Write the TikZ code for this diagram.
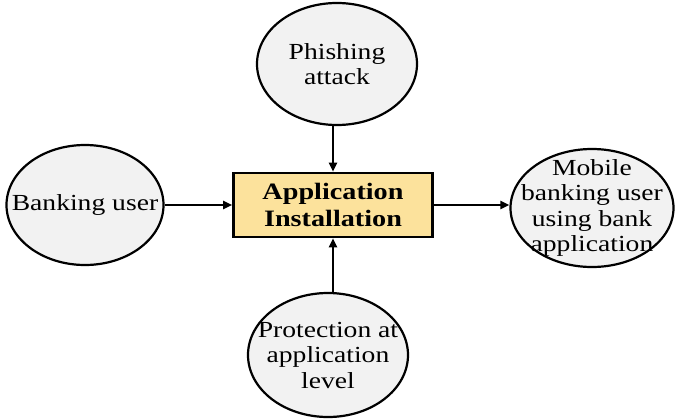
\documentclass[tikz,border=0pt]{standalone}
\usepackage{fontspec}
\setmainfont{Liberation Serif}[FakeStretch=1.2]
\usetikzlibrary{shapes.geometric,arrows.meta}
\definecolor{ovalfill}{HTML}{F2F2F2}
\definecolor{boxfill}{HTML}{FCE29C}
\tikzset{
  oval/.style={ellipse, draw=black, line width=2.2pt, fill=ovalfill, inner sep=0pt},
  ovaltext/.style={align=center, inner sep=0pt, font=\fontsize{23}{25.5}\selectfont},
  centerbox/.style={rectangle, draw=black, line width=2.6pt, fill=boxfill,
    inner sep=0pt, align=center, font=\fontsize{23.5}{27}\selectfont\bfseries},
  arr/.style={line width=2pt, -{Triangle[length=9pt,width=8pt]}}
}
\begin{document}
\begin{tikzpicture}[x=1pt,y=-1pt]
  \useasboundingbox (0,0) rectangle (675,420);
  \node[centerbox, minimum width=199pt, minimum height=64pt] (box) at (333,205)
    {Application\\Installation};
  % ellipses drawn empty, their texts set on top
  \node[oval, minimum width=160pt, minimum height=122pt] (top) at (337,64) {};
  \node[oval, minimum width=157pt, minimum height=120pt] (left) at (85,205) {};
  \node[oval, minimum width=163pt, minimum height=118pt] (right) at (592,208) {};
  \node[oval, minimum width=160pt, minimum height=124pt] (bottom) at (328,355) {};
  \node[ovaltext] (toptext) at (top.center) {Phishing\\attack};
  \node[ovaltext] (lefttext) at (left.center) {Banking user};
  \node[ovaltext] (righttext) at (right.center) {Mobile\\banking user\\using bank\\application};
  \node[ovaltext] (bottomtext) at (bottom.center) {Protection at\\application\\level};
  \draw[arr] (box.north |- top.south) -- (box.north);
  \draw[arr] (box.south |- bottom.north) -- (box.south);
  \draw[arr] (left.east) -- (left.east -| box.west);
  \draw[arr] (box.east) -- (box.east -| right.west);
\end{tikzpicture}
\end{document}
